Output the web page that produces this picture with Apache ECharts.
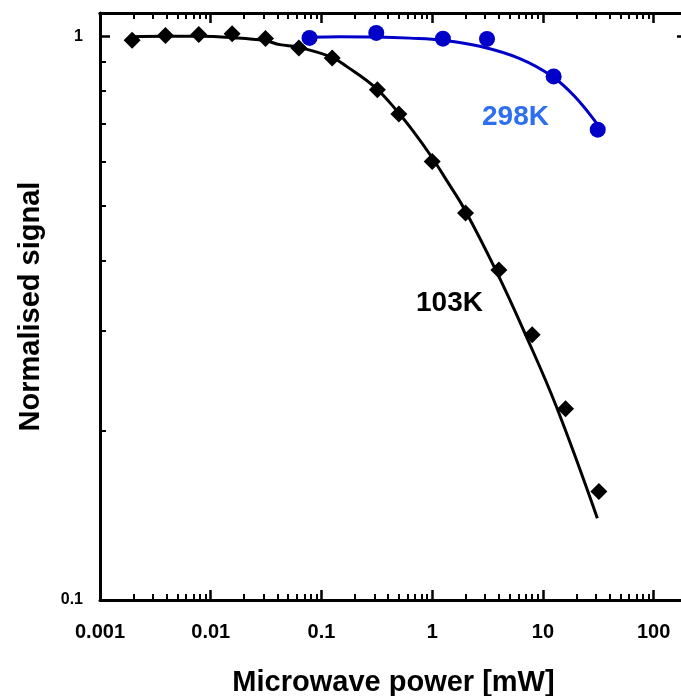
<!DOCTYPE html>
<html>
<head>
<meta charset="utf-8">
<script src="https://cdn.jsdelivr.net/npm/echarts@6/dist/echarts.min.js"></script>
<style>
  html, body { margin: 0; padding: 0; background: #fff; }
  #chart { width: 681px; height: 696px; }
</style>
</head>
<body>
<div id="chart"></div>
<script>
// 103K points (power in mW, normalised signal)
const powerLow = [0.00195, 0.0039, 0.0078, 0.0156, 0.03125, 0.0625, 0.125, 0.32, 0.5, 1, 2, 4, 8, 16, 32];
const signalLow = [0.984, 1.003, 1.007, 1.011, 0.991, 0.953, 0.915, 0.804, 0.728, 0.600, 0.486, 0.385, 0.2955, 0.2184, 0.1558];
// 103K fit curve
const fitLowX = [0.00194, 0.00386, 0.008, 0.0155, 0.0308, 0.0421, 0.0612, 0.1234, 0.1685, 0.303, 0.479, 0.673, 0.986, 1.346, 1.968, 3.80, 6.85, 13.24, 31.0];
const fitLowY = [0.9988, 1.0, 1.0, 0.9947, 0.9826, 0.9666, 0.9569, 0.9185, 0.8845, 0.8126, 0.738, 0.679, 0.6115, 0.5557, 0.4925, 0.3828, 0.2978, 0.2202, 0.1397];

// 298K points
const powerHigh = [0.078, 0.3125, 1.25, 3.125, 12.5, 31.25];
const signalHigh = [0.9935, 1.014, 0.9906, 0.9894, 0.849, 0.683];
// 298K fit curve
const fitHighX = [0.0786, 0.1466, 0.314, 0.628, 1.254, 2.69, 6.18, 12.25, 19.4, 31.2];
const fitHighY = [0.9967, 0.9988, 0.9976, 0.9927, 0.9838, 0.960, 0.913, 0.848, 0.7819, 0.697];

const xMajor = [0.001, 0.01, 0.1, 1, 10, 100];
const xMinor = [];
xMajor.forEach(d => { for (let k = 2; k <= 9; k++) xMinor.push(+(d * k).toPrecision(3)); });
const yMajor = [0.1, 1];
const yMinor = [0.2, 0.3, 0.4, 0.5, 0.6, 0.7, 0.8, 0.9];

const pairs = (xs, ys) => xs.map((x, i) => [x, ys[i]]);

const FONT = '"Liberation Sans", Arial, sans-serif';
const black = '#000';
const blue = '#0000c8';

function xAx(pos, ticks, len, width, labels, name) {
  return {
    type: 'log', logBase: 10, min: 0.001, max: 200, position: pos,
    axisLine: { show: !!labels || pos === 'top', onZero: false, lineStyle: { color: black, width: 3 } },
    axisTick: { show: true, inside: true, length: len, customValues: ticks, lineStyle: { color: black, width: width } },
    axisLabel: labels ? {
      show: true, customValues: ticks, margin: 22, color: black,
      fontFamily: FONT, fontWeight: 'bold', fontSize: 20,
      formatter: v => String(v)
    } : { show: false },
    splitLine: { show: false },
    name: name || '', nameLocation: 'middle', nameGap: 68,
    nameTextStyle: { color: black, fontFamily: FONT, fontWeight: 'bold', fontSize: 29 }
  };
}
function yAx(pos, ticks, len, width, labels, name) {
  return {
    type: 'log', logBase: 10, min: 0.1, max: 1.1, position: pos,
    axisLine: { show: !!labels || pos === 'right', onZero: false, lineStyle: { color: black, width: 3 } },
    axisTick: { show: true, inside: true, length: len, customValues: ticks, lineStyle: { color: black, width: width } },
    axisLabel: labels ? {
      show: true, customValues: ticks, margin: 17, color: black,
      fontFamily: FONT, fontWeight: 'bold', fontSize: 16,
      formatter: v => String(v)
    } : { show: false },
    splitLine: { show: false },
    name: name || '', nameLocation: 'middle', nameGap: 55,
    nameTextStyle: { color: black, fontFamily: FONT, fontWeight: 'bold', fontSize: 29 }
  };
}

const chart = echarts.init(document.getElementById('chart'));
chart.setOption({
  animation: false,
  backgroundColor: '#fff',
  grid: { left: 100, top: 13, width: 587, height: 587, containLabel: false, outerBoundsMode: 'none' },
  xAxis: [
    xAx('bottom', xMajor, 10, 2.5, true, 'Microwave power [mW]'),
    xAx('bottom', xMinor, 6, 2, false),
    xAx('top', xMajor, 10, 2.5, false),
    xAx('top', xMinor, 6, 2, false)
  ],
  yAxis: [
    yAx('left', yMajor, 10, 2.5, true, 'Normalised signal'),
    yAx('left', yMinor, 6, 2, false),
    yAx('right', yMajor, 10, 2.5, false),
    yAx('right', yMinor, 6, 2, false)
  ],
  series: [
    {
      type: 'line', data: pairs(fitLowX, fitLowY), smooth: 0.4, showSymbol: false,
      lineStyle: { color: black, width: 3 }, z: 2
    },
    {
      type: 'scatter', data: pairs(powerLow, signalLow), symbol: 'diamond', symbolSize: [17, 17],
      itemStyle: { color: black, opacity: 1 }, z: 3
    },
    {
      type: 'line', data: pairs(fitHighX, fitHighY), smooth: 0.4, showSymbol: false,
      lineStyle: { color: blue, width: 3 }, z: 4
    },
    {
      type: 'scatter', data: pairs(powerHigh, signalHigh), symbol: 'circle', symbolSize: 16,
      itemStyle: { color: blue, opacity: 1 }, z: 5
    }
  ],
  graphic: [
    { type: 'text', left: 482, top: 103, style: { text: '298K', fill: '#2e6ef0', font: 'bold 28px ' + FONT } },
    { type: 'text', left: 416, top: 289, style: { text: '103K', fill: black, font: 'bold 28px ' + FONT } }
  ]
});
</script>
</body>
</html>
